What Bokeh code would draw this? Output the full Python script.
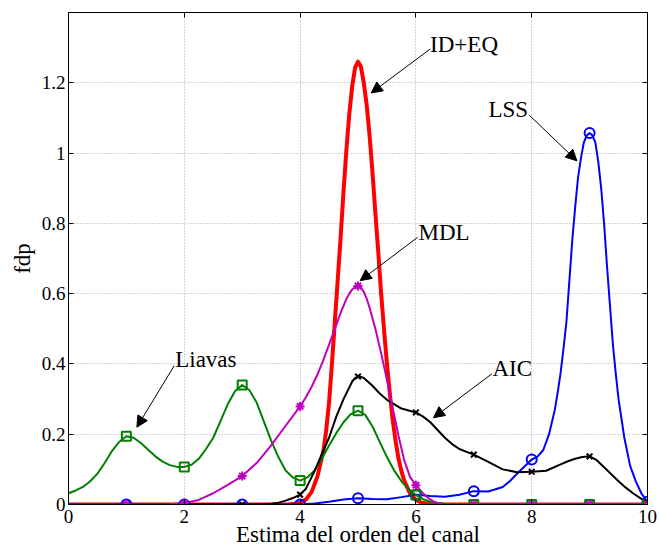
from bokeh.plotting import figure
from bokeh.models import Range1d, LinearAxis, FixedTicker, Label, Arrow, NormalHead
from bokeh.embed import file_html
from bokeh.resources import INLINE

# ---- estimated channel order: probability at each candidate order ----
orders = [1, 2, 3, 4, 5, 6, 7, 8, 9, 10]
liavas_pts = [0.194, 0.107, 0.340, 0.068, 0.267, 0.027, 0.0, 0.0, 0.0, 0.0]
mdl_pts = [0.0, 0.004, 0.081, 0.279, 0.622, 0.055, 0.0, 0.0, 0.0, 0.0]
aic_pts = [0.0, 0.0, 0.0, 0.028, 0.364, 0.262, 0.142, 0.093, 0.137, 0.006]
lss_pts = [0.0, 0.0, 0.0, 0.0, 0.018, 0.028, 0.038, 0.128, 1.057, 0.008]

# ---- smoothed density curves (fdp) ----
ideq_x = [0, 3.6, 3.8, 3.9, 4.0, 4.1, 4.2, 4.3, 4.4, 4.45, 4.5, 4.55, 4.6, 4.65, 4.7, 4.75,
          4.8, 4.85, 4.9, 4.95, 5.0, 5.05, 5.1, 5.15, 5.2, 5.25, 5.3, 5.35, 5.4, 5.45,
          5.5, 5.55, 5.6, 5.65, 5.7, 5.75, 5.8, 5.9, 6.0, 6.1, 6.2, 6.4, 10]
ideq_y = [0, 0, 0.0, 0.002, 0.005, 0.014, 0.036, 0.08, 0.15, 0.21, 0.29, 0.40, 0.52, 0.64,
          0.76, 0.89, 1.01, 1.112, 1.19, 1.243, 1.26, 1.246, 1.20, 1.137, 1.05, 0.946, 0.83,
          0.718, 0.60, 0.497, 0.40, 0.315, 0.24, 0.18, 0.13, 0.095, 0.067, 0.031, 0.013,
          0.005, 0.002, 0, 0]

mdl_x = [0, 1.5, 1.75, 2.0, 2.25, 2.5, 2.75, 3.0, 3.25, 3.5, 3.75, 4.0, 4.1, 4.2, 4.3, 4.4,
         4.5, 4.6, 4.7, 4.8, 4.85, 4.9, 4.95, 5.0, 5.05, 5.1, 5.15, 5.2, 5.3, 5.4, 5.5,
         5.6, 5.7, 5.8, 5.9, 6.0, 6.1, 6.2, 6.3, 6.4, 6.5, 10]
mdl_y = [0, 0, 0.001, 0.004, 0.013, 0.032, 0.056, 0.081, 0.118, 0.168, 0.224, 0.279, 0.305,
         0.335, 0.37, 0.41, 0.455, 0.50, 0.545, 0.585, 0.6, 0.612, 0.619, 0.622, 0.617,
         0.605, 0.586, 0.56, 0.50, 0.43, 0.355, 0.275, 0.195, 0.125, 0.078, 0.055, 0.036,
         0.02, 0.009, 0.003, 0, 0]

aic_x = [0, 3.3, 3.5, 3.6, 3.75, 3.9, 4.0, 4.1, 4.25, 4.375, 4.5, 4.625, 4.75, 4.9, 4.95,
         5.0, 5.05, 5.1, 5.25, 5.375, 5.5, 5.75, 6.0, 6.125, 6.25, 6.375, 6.5, 6.625, 6.75,
         7.0, 7.25, 7.5, 7.75, 8.0, 8.25, 8.5, 8.625, 8.75, 8.875, 9.0, 9.125, 9.25, 9.375,
         9.5, 9.625, 9.75, 9.875, 10.0]
aic_y = [0, 0, 0.002, 0.004, 0.011, 0.02, 0.028, 0.045, 0.095, 0.143, 0.19, 0.25, 0.30,
         0.35, 0.36, 0.364, 0.363, 0.36, 0.338, 0.316, 0.298, 0.273, 0.262, 0.25, 0.234,
         0.212, 0.19, 0.172, 0.158, 0.142, 0.121, 0.10, 0.092, 0.093, 0.096, 0.114, 0.123,
         0.13, 0.135, 0.137, 0.126, 0.106, 0.086, 0.066, 0.048, 0.032, 0.018, 0.006]

lss_x = [0, 4.0, 4.25, 4.5, 4.75, 5.0, 5.25, 5.5, 5.75, 6.0, 6.25, 6.5, 6.75, 7.0, 7.25,
         7.5, 7.625, 7.75, 7.875, 8.0, 8.1, 8.2, 8.3, 8.4, 8.45, 8.5, 8.55, 8.6, 8.65, 8.7,
         8.75, 8.8, 8.85, 8.9, 8.95, 9.0, 9.05, 9.1, 9.15, 9.2, 9.25, 9.3, 9.35, 9.4, 9.45,
         9.5, 9.6, 9.7, 9.8, 9.9, 10.0]
lss_y = [0, 0, 0.003, 0.008, 0.014, 0.018, 0.016, 0.015, 0.021, 0.028, 0.024, 0.022, 0.028,
         0.038, 0.037, 0.05, 0.067, 0.088, 0.108, 0.128, 0.136, 0.155, 0.20, 0.27, 0.32,
         0.375, 0.445, 0.52, 0.635, 0.75, 0.845, 0.93, 0.985, 1.03, 1.05, 1.057, 1.05,
         1.03, 0.975, 0.90, 0.80, 0.68, 0.57, 0.46, 0.375, 0.30, 0.19, 0.11, 0.065, 0.03,
         0.008]

liavas_x = [0, 0.125, 0.25, 0.375, 0.5, 0.625, 0.75, 0.875, 1.0, 1.125, 1.25, 1.375, 1.5,
            1.625, 1.75, 1.875, 2.0, 2.125, 2.25, 2.375, 2.5, 2.625, 2.75, 2.875, 3.0,
            3.125, 3.25, 3.375, 3.5, 3.625, 3.75, 3.875, 4.0, 4.125, 4.25, 4.375, 4.5,
            4.625, 4.75, 4.875, 5.0, 5.125, 5.25, 5.375, 5.5, 5.625, 5.75, 5.875, 6.0,
            6.125, 6.25, 6.375, 6.5, 6.75, 10]
liavas_y = [0.032, 0.04, 0.05, 0.066, 0.088, 0.118, 0.152, 0.178, 0.194, 0.19, 0.175, 0.156,
            0.137, 0.122, 0.112, 0.107, 0.107, 0.113, 0.13, 0.158, 0.19, 0.237, 0.285,
            0.322, 0.34, 0.325, 0.29, 0.236, 0.182, 0.135, 0.097, 0.077, 0.068, 0.077,
            0.097, 0.13, 0.168, 0.203, 0.234, 0.257, 0.267, 0.255, 0.222, 0.178, 0.135,
            0.097, 0.066, 0.043, 0.027, 0.015, 0.008, 0.004, 0.002, 0, 0]

# ---- axes ticks ----
x_ticks = [0, 2, 4, 6, 8, 10]
y_ticks = [0, 0.2, 0.4, 0.6, 0.8, 1.0, 1.2]
y_tick_labels = ["0", "0.2", "0.4", "0.6", "0.8", "1", "1.2"]

SERIF = "Liberation Serif"
GREEN = "#008000"
MAGENTA = "#bf00bf"
BLUE = "#0000ff"
RED = "#ff0000"

p = figure(width=659, height=551, x_range=Range1d(0, 10), y_range=Range1d(0, 1.4),
           output_backend="svg", toolbar_location=None,
           min_border_left=68, min_border_right=12, min_border_top=12,
           min_border_bottom=47)
p.background_fill_color = "white"
p.border_fill_color = "white"
p.outline_line_color = "black"
p.outline_line_width = 1

for g in (p.xgrid, p.ygrid):
    g.grid_line_color = "#a8a8a8"
    g.grid_line_dash = "1 2"
    g.grid_line_width = 1
p.xgrid.ticker = FixedTicker(ticks=x_ticks)
p.ygrid.ticker = FixedTicker(ticks=y_ticks)


def style_axis(ax, ticks):
    ax.ticker = FixedTicker(ticks=ticks)
    ax.major_tick_in = 5
    ax.major_tick_out = 0
    ax.minor_tick_line_color = None
    ax.axis_line_color = "black"
    ax.major_tick_line_color = "black"
    ax.major_label_text_font = SERIF
    ax.major_label_text_font_size = "19px"
    ax.major_label_text_color = "black"
    ax.axis_label_text_font = SERIF
    ax.axis_label_text_font_size = "23px"
    ax.axis_label_text_font_style = "normal"
    ax.axis_label_text_color = "black"


style_axis(p.xaxis[0], x_ticks)
style_axis(p.yaxis[0], y_ticks)
p.xaxis[0].axis_label = "Estima del orden del canal"
p.xaxis[0].major_label_standoff = 5
p.xaxis[0].axis_label_standoff = -4
p.yaxis[0].axis_label = "fdp"
p.yaxis[0].major_label_standoff = 3
p.yaxis[0].axis_label_standoff = 4
p.yaxis[0].major_label_overrides = dict(zip(y_ticks, y_tick_labels))

# mirrored tick marks on the top and right edges of the box (no labels)
for side, ticks in (("above", x_ticks), ("right", y_ticks)):
    ax = LinearAxis()
    style_axis(ax, ticks)
    ax.major_label_text_font_size = "1px"
    ax.major_label_text_color = None
    ax.major_label_standoff = 0
    p.add_layout(ax, side)

# ---- curves ----
p.line(ideq_x, ideq_y, line_color=RED, line_width=4, line_join="round")
p.line(lss_x, lss_y, line_color=BLUE, line_width=2, line_join="round")
p.line(liavas_x, liavas_y, line_color=GREEN, line_width=2, line_join="round")
p.line(aic_x, aic_y, line_color="black", line_width=2, line_join="round")
p.line(mdl_x, mdl_y, line_color=MAGENTA, line_width=2, line_join="round")

# ---- markers at each order ----
p.scatter(orders, lss_pts, marker="circle", size=10, fill_color=None,
          line_color=BLUE, line_width=2)
p.scatter(orders, liavas_pts, marker="square", size=9, fill_color=None,
          line_color=GREEN, line_width=2)
p.scatter(orders, aic_pts, marker="x", size=8, line_color="black", line_width=2)
p.scatter(orders, mdl_pts, marker="asterisk", size=9, line_color=MAGENTA, line_width=2)

# ---- annotations ----
labels = [
    ("ID+EQ", 6.245, 1.310, 6.247, 1.296, 5.228, 1.171),
    ("LSS", 7.254, 1.123, 7.957, 1.108, 8.781, 0.978),
    ("MDL", 6.045, 0.773, 6.028, 0.760, 5.038, 0.637),
    ("Liavas", 1.843, 0.412, 1.826, 0.395, 1.181, 0.220),
    ("AIC", 7.323, 0.386, 7.313, 0.372, 6.304, 0.247),
]
for text, tx, ty, x0, y0, x1, y1 in labels:
    p.add_layout(Label(x=tx, y=ty, text=text, text_font=SERIF, text_font_size="23px",
                       text_color="black", text_baseline="alphabetic"))
    p.add_layout(Arrow(x_start=x0, y_start=y0, x_end=x1, y_end=y1, line_width=1,
                       line_color="black",
                       end=NormalHead(size=11, fill_color="black", line_color="black",
                                      line_width=1)))

open("out.html", "w").write(file_html(p, INLINE))
